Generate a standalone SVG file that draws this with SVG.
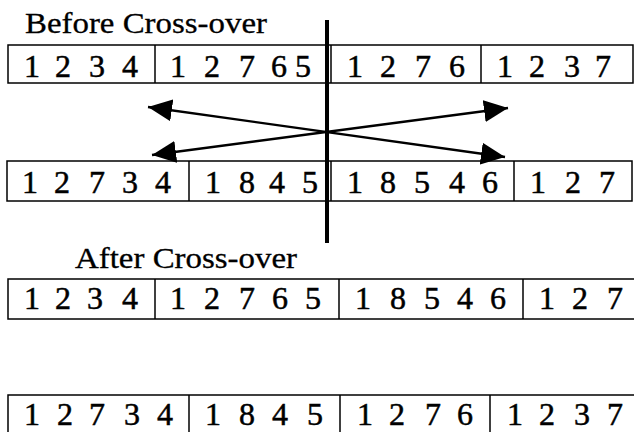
<svg xmlns="http://www.w3.org/2000/svg" width="634" height="432" viewBox="0 0 634 432">
  <style>
    .box { fill: #fff; stroke: #000; stroke-width: 1.5; }
    .div { stroke: #000; stroke-width: 1.5; }
    .gene { font-family: 'Liberation Serif', 'DejaVu Serif', serif; font-size: 32px; fill: #000; stroke: #000; stroke-width: 0.5; text-anchor: middle; }
    .title { font-family: 'Liberation Serif', 'DejaVu Serif', serif; font-size: 30px; fill: #000; stroke: #000; stroke-width: 0.3; }
    .arrow { stroke: #000; stroke-width: 2.4; fill: none; }
    .cut { stroke: #000; stroke-width: 4; }
  </style>
  <defs>
    <marker id="head" viewBox="0 0 24 22" refX="24" refY="11" markerWidth="24" markerHeight="22" markerUnits="userSpaceOnUse" orient="auto-start-reverse">
      <path d="M0,0 L24,11 L0,22 Z" fill="#000"/>
    </marker>
  </defs>

  <rect width="634" height="432" fill="#fff"/>

  <!-- parents before cross-over -->
  <text id="label-before" class="title" x="25" y="33" textLength="242" lengthAdjust="spacingAndGlyphs">Before Cross-over</text>

  <g id="parent-a">
    <rect class="box" x="8" y="45" width="625" height="38"/>
    <line class="div" x1="155" y1="45" x2="155" y2="83"/>
    <line class="div" x1="331" y1="45" x2="331" y2="83"/>
    <line class="div" x1="481" y1="45" x2="481" y2="83"/>
    <text class="gene" y="77" x="32 47 63 80 97 113 130">1 2 3 4</text>
    <text class="gene" y="77" x="178 195 212 230 247 263 279 303">1 2 7 65</text>
    <text class="gene" y="77" x="355 371 388 405 423 440 457">1 2 7 6</text>
    <text class="gene" y="77" x="505 521 537 555 572 588 603">1 2 3 7</text>
  </g>

  <g id="parent-b">
    <rect class="box" x="7" y="161" width="625" height="40"/>
    <line class="div" x1="189" y1="161" x2="189" y2="201"/>
    <line class="div" x1="331" y1="161" x2="331" y2="201"/>
    <line class="div" x1="514" y1="161" x2="514" y2="201"/>
    <text class="gene" y="193" x="30 46 62 80 97 113 130 147 163">1 2 7 3 4</text>
    <text class="gene" y="193" x="213 230 247 262 277 293 310">1 8 4 5</text>
    <text class="gene" y="193" x="355 371 388 405 422 440 457 473 490">1 8 5 4 6</text>
    <text class="gene" y="193" x="538 555 573 590 607">1 2 7</text>
  </g>

  <!-- offspring after cross-over -->
  <text id="label-after" class="title" x="75" y="268" textLength="222" lengthAdjust="spacingAndGlyphs">After Cross-over</text>

  <g id="child-a">
    <rect class="box" x="8" y="279" width="630" height="40"/>
    <line class="div" x1="155" y1="279" x2="155" y2="319"/>
    <line class="div" x1="339" y1="279" x2="339" y2="319"/>
    <line class="div" x1="523" y1="279" x2="523" y2="319"/>
    <text class="gene" y="309" x="32 47 63 79 95 112 130">1 2 3 4</text>
    <text class="gene" y="309" x="178 195 212 230 247 263 280 296 313">1 2 7 6 5</text>
    <text class="gene" y="309" x="363 380 398 415 432 448 465 481 498">1 8 5 4 6</text>
    <text class="gene" y="309" x="547 563 580 597 615">1 2 7</text>
  </g>

  <g id="child-b">
    <rect class="box" x="8" y="395" width="630" height="42"/>
    <line class="div" x1="189" y1="395" x2="189" y2="432"/>
    <line class="div" x1="340" y1="395" x2="340" y2="432"/>
    <line class="div" x1="490" y1="395" x2="490" y2="432"/>
    <text class="gene" y="425" x="32 48 65 81 97 114 132 148 165">1 2 7 3 4</text>
    <text class="gene" y="425" x="213 230 247 263 280 297 315">1 8 4 5</text>
    <text class="gene" y="425" x="365 381 397 415 433 449 465">1 2 7 6</text>
    <text class="gene" y="425" x="515 531 547 564 582 598 615">1 2 3 7</text>
  </g>

  <!-- cut point and exchange arrows -->
  <g id="connectors">
    <line class="cut" x1="327" y1="20" x2="327" y2="243"/>
    <line class="arrow" x1="148" y1="107" x2="505" y2="157" marker-start="url(#head)" marker-end="url(#head)"/>
    <line class="arrow" x1="152" y1="155" x2="508" y2="108" marker-start="url(#head)" marker-end="url(#head)"/>
  </g>
</svg>
